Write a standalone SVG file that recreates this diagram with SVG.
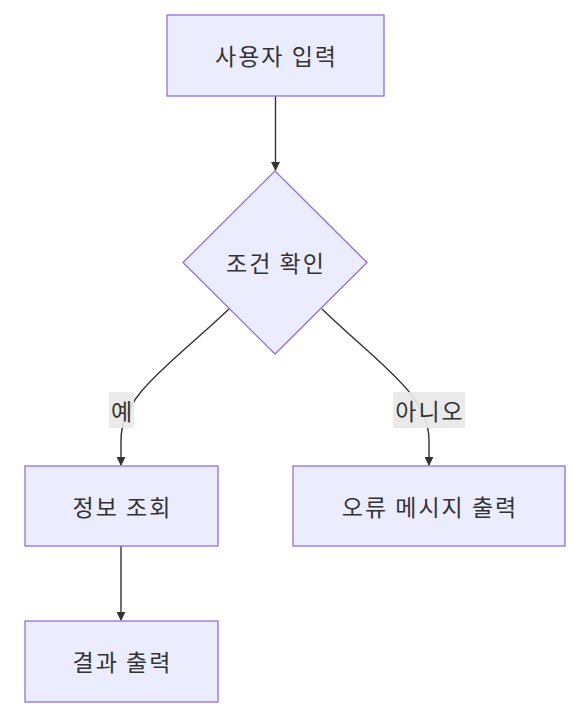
<svg xmlns="http://www.w3.org/2000/svg" width="573" height="718" viewBox="0 0 573 718">
<style>
.node rect,.node polygon{fill:#ECECFF;stroke:#9370DB;stroke-width:1.3}
text{font-family:"Noto Sans CJK KR","Liberation Sans",sans-serif;font-size:23px;letter-spacing:2px;fill:#333;text-anchor:middle;dominant-baseline:central}
.edge{fill:none;stroke:#333;stroke-width:1.4}
.lbl{fill:#e8e8e8;opacity:0.9}
</style>
<defs>
<marker id="ah" viewBox="0 0 10 10" refX="9" refY="5" markerWidth="9" markerHeight="9" orient="auto" markerUnits="userSpaceOnUse">
<path d="M0,0 L10,5 L0,10 z" fill="#333"/>
</marker>
</defs>
<rect width="573" height="718" fill="#fff"/>
<g id="edges">
<path class="edge" d="M275.5,96 L275.5,170" marker-end="url(#ah)"/>
<path class="edge" d="M229,309 C170,365 121,395 121,440 L121,465" marker-end="url(#ah)"/>
<path class="edge" d="M322,309 C380,365 429,395 429,440 L429,465" marker-end="url(#ah)"/>
<path class="edge" d="M121,546 L121,620" marker-end="url(#ah)"/>
</g>
<g id="labels">
<rect class="lbl" x="109" y="392" width="25" height="36"/>
<text x="122.5" y="410">예</text>
<rect class="lbl" x="393" y="392" width="72" height="36"/>
<text x="430" y="410">아니오</text>
</g>
<g id="A" class="node"><rect x="167" y="15" width="217" height="81"/><text x="276.5" y="55">사용자 입력</text></g>
<g id="B" class="node"><polygon points="275,171 367,262.5 275,354 183,262.5"/><text x="276" y="262">조건 확인</text></g>
<g id="C" class="node"><rect x="25" y="466" width="193" height="80"/><text x="122.5" y="506">정보 조회</text></g>
<g id="D" class="node"><rect x="293" y="466" width="272" height="80"/><text x="430" y="506">오류 메시지 출력</text></g>
<g id="E" class="node"><rect x="25" y="621" width="193" height="81"/><text x="122.5" y="661">결과 출력</text></g>
</svg>
